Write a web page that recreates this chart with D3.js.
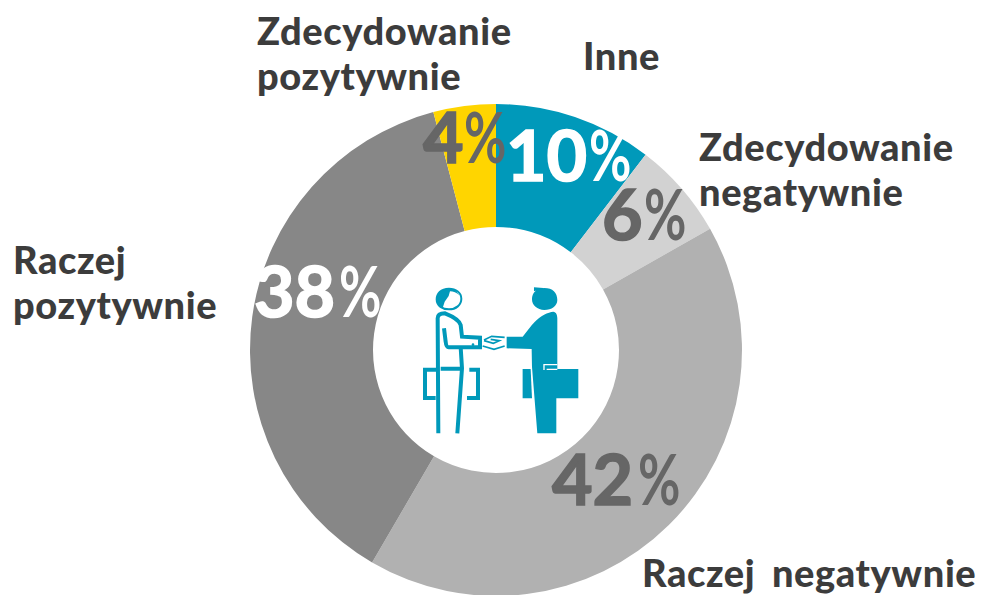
<!DOCTYPE html>
<html><head><meta charset="utf-8">
<style>html,body{margin:0;background:#fff}svg{display:block}text{font-family:Lato,"Open Sans",sans-serif}</style>
<script src="https://cdn.jsdelivr.net/npm/d3@7"></script></head>
<body><svg id="c" width="986" height="595"></svg>
<script>
const categories=["Inne","Zdecydowanie negatywnie","Raczej negatywnie","Raczej pozytywnie","Zdecydowanie pozytywnie"];
const shares=[10.4,6.4,41.6,37.5,4.1];
const percentLabels=["10","6","42","38","4"];
const sliceColors=["#0099ba","#d2d2d2","#b1b1b1","#878787","#ffd500"];
const valueColors=["#ffffff","#666666","#666666","#ffffff","#666666"];
const valueAnchors=[[506,181],[602,240],[552,505],[254,317],[423,163]];
const percentAnchors=[[589,181],[644,240],[638,505],[339,317],[464,163]];
const labelLines=[["Inne"],["Zdecydowanie","negatywnie"],["Raczej negatywnie"],["Raczej","pozytywnie"],["Zdecydowanie","pozytywnie"]];
const labelAnchors=[[583,70],[699,161],[642,587],[13,274],[257,45]];

const svg=d3.select("#c");
const pie=d3.pie().sort(null).value(d=>d)(shares);
const arc=d3.arc().innerRadius(123).outerRadius(246);
const g=svg.append("g").attr("transform","translate(496,350)");
g.selectAll("path").data(pie).join("path").attr("d",arc).attr("fill",(d,i)=>sliceColors[i]);

percentLabels.forEach((t,i)=>{
  svg.append("text").attr("x",valueAnchors[i][0]).attr("y",valueAnchors[i][1])
    .attr("font-size",70).attr("font-weight",700).attr("fill",valueColors[i])
    .attr("stroke",valueColors[i]).attr("stroke-width",1.6).text(t);
  svg.append("text").attr("transform",`translate(${percentAnchors[i][0]},${percentAnchors[i][1]}) scale(.74,1)`)
    .attr("font-size",70).attr("font-weight",700).attr("fill",valueColors[i]).text("%");
});
labelLines.forEach((ls,i)=>{
  ls.forEach((l,j)=>svg.append("text").attr("x",labelAnchors[i][0]).attr("y",labelAnchors[i][1]+j*45)
    .attr("font-size",38).attr("font-weight",900).attr("letter-spacing",.6).attr("word-spacing",7)
    .attr("fill","#3c3c3c").text(l));
});

// handshake icon
const ink="#0099ba";
const ic=svg.append("g").attr("transform","translate(400,270) scale(.3333)");
ic.append("path").attr("fill",ink).attr("d","M396,88 C396,68 410,54 433,54 C458,54 472,68 472,90 C472,108 455,120 433,120 C412,120 396,106 396,88Z M402,52 L430,54 L402,64Z");
ic.append("path").attr("fill",ink).attr("d","M404,156 C420,138 445,126 460,125 C468,126 472,134 472,145 L472,297 L535,297 L535,385 L469,385 L469,490 L412,490 L396,290 L395,237 L320,235 L320,200 L368,200 L395,166Z");
ic.append("path").attr("fill",ink).attr("d","M368,297 L392,297 L396,385 L368,385Z");
ic.append("path").attr("fill","none").attr("stroke","#fff").attr("stroke-width",4)
  .attr("d","M432,300 L432,284 L472,284 M440,298 L472,298");
ic.append("path").attr("fill","none").attr("stroke",ink).attr("stroke-width",12)
  .attr("d","M115,490 L113,145 C113,134 122,130 135,130 C160,140 178,150 182,165 L186,200 L240,203 L240,232 L146,232 C140,232 138,225 137,215 L132,175 M182,232 L186,295 L172,490");
ic.append("path").attr("fill","none").attr("stroke",ink).attr("stroke-width",12)
  .attr("d","M113,299 L75,299 L75,384 L107,384 M122,296 L184,296 M208,299 L234,299 L234,384 L201,384");
ic.append("path").attr("fill","none").attr("stroke",ink).attr("stroke-width",6)
  .attr("d","M147,56 C122,56 110,72 110,88 C110,108 128,118 147,118 C168,118 184,105 184,86 C184,68 168,56 147,56Z");
ic.append("path").attr("fill",ink).attr("d","M147,56 C122,56 110,72 110,88 C110,100 118,110 128,114 L134,95 L146,78 L150,64 C160,64 170,68 178,76 C170,62 160,56 147,56Z");
ic.append("circle").attr("cx",219).attr("cy",224).attr("r",4).attr("fill",ink);
ic.append("path").attr("fill","none").attr("stroke",ink).attr("stroke-width",5)
  .attr("d","M252,210 L275,199 L314,202 M252,212 L280,220 L298,212 L272,208 M248,228 L282,238 L314,228");
</script></body></html>
